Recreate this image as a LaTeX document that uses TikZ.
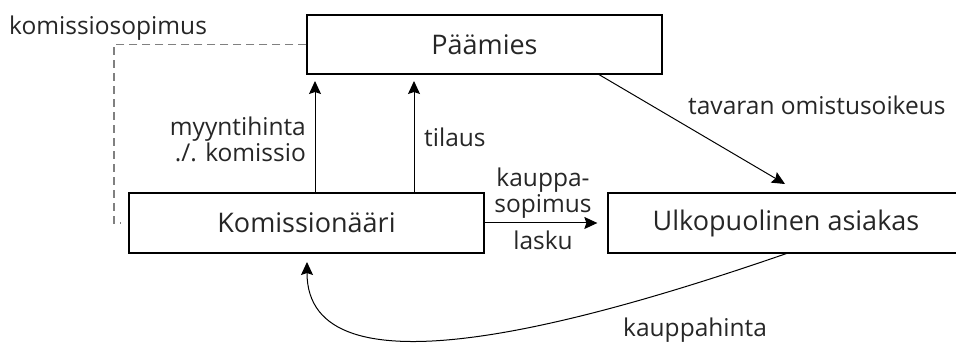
\documentclass[tikz,border=0pt]{standalone}
\usepackage{fontspec}
\setmainfont{Open Sans}
\usetikzlibrary{arrows.meta}

\begin{document}
\begin{tikzpicture}[x=1pt, y=-1pt,
		font=\fontsize{24.5}{26}\selectfont,
		box/.style={draw, line width=1.3pt, inner sep=0pt, font=\fontsize{27}{30}\selectfont, text=black!85},
		arr/.style={-{Stealth[length=13pt, width=12pt, inset=2pt]}, line width=1pt},
		lbl/.style={inner sep=0pt, text=black!85}]
		\useasboundingbox (0,0) rectangle (956,344);
		\node[box, minimum width=355, minimum height=59] (paamies) at (484.5,44.5) {Päämies};
		\node[box, minimum width=355, minimum height=60] (komissionaari) at (306.5,223) {Komissionääri};
		\node[box, minimum width=356, minimum height=60] (asiakas) at (786,223) {Ulkopuolinen asiakas};
		\coordinate (k1) at (315,193);
		\coordinate (k2) at (414,193);
		\coordinate (p1) at (315,74);
		\coordinate (p2) at (414,74);
		\draw [arr, shorten >=7pt] (k1) -- (p1);
		\draw [arr, shorten >=7pt] (k2) -- (p2);
		\coordinate (pd) at (598,74);
		\coordinate (ad) at (785,184);
		\draw [arr] (pd) -- (ad);
		\draw [arr, shorten >=10pt] (komissionaari.east) -- (asiakas.west);
		\coordinate (ab) at (788,253);
		\coordinate (kb) at (307,262);
		\draw [arr] (ab) .. controls (580,325) and (307,400) .. (kb);
		\draw [dashed, gray, line width=1.3pt, dash pattern=on 8pt off 5pt]
			(paamies.west) -- (114,44.5) |- ([xshift=-7pt]komissionaari.west);
		\node[lbl, anchor=base west] (sopimus) at (9,35) {komissiosopimus};
		\node[lbl, anchor=base east, align=right] (myynti) at (306,162) {myyntihinta\\./. komissio};
		\node[lbl, anchor=base west] (tilaus) at (424,147) {tilaus};
		\node[lbl, anchor=base west] (omistus) at (688,115) {tavaran omistusoikeus};
		\node[lbl, anchor=base, align=center] (kauppa) at (543,213) {kauppa-\\sopimus};
		\node[lbl, anchor=base] (lasku) at (543,250) {lasku};
		\node[lbl, anchor=base west] (hinta) at (623,337) {kauppahinta};
	\end{tikzpicture}
\end{document}
